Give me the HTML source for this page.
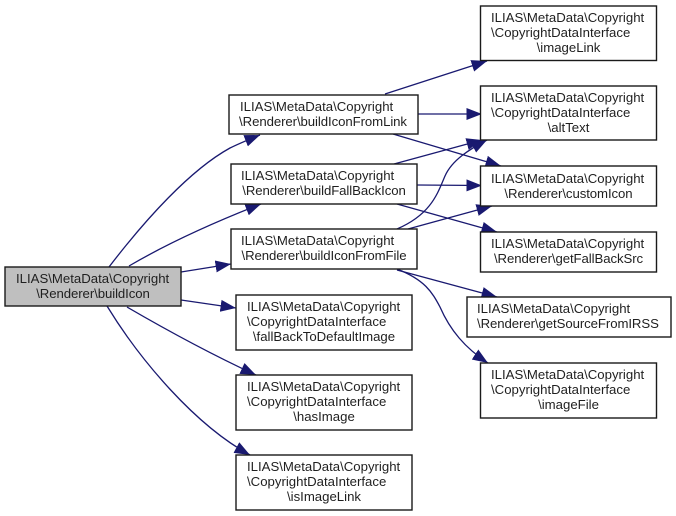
<!DOCTYPE html>
<html>
<head>
<meta charset="utf-8">
<style>
html,body{margin:0;padding:0;background:#fff;width:676px;height:516px;overflow:hidden}
svg{display:block}
text{font-family:"Liberation Sans",Arial,sans-serif;font-size:13.2px;fill:#1f1f1f}
.m{text-anchor:middle}
.r{letter-spacing:-.08px}
rect{fill:#fff;stroke:#1a1a1a;stroke-width:1.4}
path{fill:none;stroke:#191970;stroke-width:1.3}
</style>
</head>
<body>
<svg width="676" height="516" viewBox="0 0 676 516" xmlns="http://www.w3.org/2000/svg">
<defs>
<marker id="a" markerUnits="userSpaceOnUse" markerWidth="17" markerHeight="14" refX="15.5" refY="6.5" orient="auto">
<polygon points="0,0.5 15.5,6.5 0,12.5" fill="#191970"/>
</marker>
</defs>

<path marker-end="url(#a)" d="M109,267 C145,220 190,170 230,148 C240,143 250,139 260,135"/>
<path marker-end="url(#a)" d="M129,266 C170,242 215,222 261,204"/>
<path marker-end="url(#a)" d="M181,272 L231,264"/>
<path marker-end="url(#a)" d="M181,300 L236,308"/>
<path marker-end="url(#a)" d="M127,307 C170,332 215,356 256,375"/>
<path marker-end="url(#a)" d="M107,306 C140,360 195,425 250,455"/>
<path marker-end="url(#a)" d="M385,94 L487,61"/>
<path marker-end="url(#a)" d="M418,114 L482,114"/>
<path marker-end="url(#a)" d="M393,134 L501,166"/>
<path marker-end="url(#a)" d="M394,164 L482,140"/>
<path marker-end="url(#a)" d="M417,185 L482,185.5"/>
<path marker-end="url(#a)" d="M397,204 L497,232"/>
<path marker-end="url(#a)" d="M397,229 C432,214 438,192 445,176 C452,160 470,149 487,140"/>
<path marker-end="url(#a)" d="M408,229 L492,206"/>
<path marker-end="url(#a)" d="M397,270 L497,297"/>
<path marker-end="url(#a)" d="M397,269 C425,280 432,292 440,307 C450,330 465,348 488,363"/>

<rect x="5" y="267" width="176" height="39" style="fill:#bfbfbf"/>
<text x="16" y="283">ILIAS\MetaData\Copyright</text>
<text x="93" y="298" class="m r">\Renderer\buildIcon</text>

<rect x="229" y="95" width="189" height="39"/>
<text x="240" y="111">ILIAS\MetaData\Copyright</text>
<text x="323" y="126" class="m r">\Renderer\buildIconFromLink</text>

<rect x="231" y="164" width="186" height="40"/>
<text x="241" y="180">ILIAS\MetaData\Copyright</text>
<text x="324" y="195" class="m r">\Renderer\buildFallBackIcon</text>

<rect x="231" y="229" width="186" height="40"/>
<text x="241" y="245">ILIAS\MetaData\Copyright</text>
<text x="324" y="260" class="m r">\Renderer\buildIconFromFile</text>

<rect x="236" y="295" width="176" height="55"/>
<text x="247" y="311">ILIAS\MetaData\Copyright</text>
<text x="247" y="326">\CopyrightDataInterface</text>
<text x="324" y="341" class="m">\fallBackToDefaultImage</text>

<rect x="236" y="375" width="176" height="55"/>
<text x="247" y="391">ILIAS\MetaData\Copyright</text>
<text x="247" y="406">\CopyrightDataInterface</text>
<text x="324" y="421" class="m">\hasImage</text>

<rect x="236" y="455" width="176" height="55"/>
<text x="247" y="471">ILIAS\MetaData\Copyright</text>
<text x="247" y="486">\CopyrightDataInterface</text>
<text x="324" y="501" class="m">\isImageLink</text>

<rect x="480.5" y="6" width="176" height="54.5"/>
<text x="491" y="22">ILIAS\MetaData\Copyright</text>
<text x="491" y="37">\CopyrightDataInterface</text>
<text x="568.5" y="52" class="m">\imageLink</text>

<rect x="480.5" y="86" width="176" height="54"/>
<text x="491" y="102">ILIAS\MetaData\Copyright</text>
<text x="491" y="117">\CopyrightDataInterface</text>
<text x="568.5" y="132" class="m">\altText</text>

<rect x="480.5" y="166" width="176" height="40"/>
<text x="491" y="183">ILIAS\MetaData\Copyright</text>
<text x="568.5" y="198" class="m r">\Renderer\customIcon</text>

<rect x="480.5" y="232" width="176" height="40"/>
<text x="491" y="248">ILIAS\MetaData\Copyright</text>
<text x="568.5" y="263" class="m r">\Renderer\getFallBackSrc</text>

<rect x="467" y="297" width="204" height="40"/>
<text x="477" y="313">ILIAS\MetaData\Copyright</text>
<text x="477" y="328" class="r">\Renderer\getSourceFromIRSS</text>

<rect x="480.5" y="363" width="176" height="55"/>
<text x="491" y="379">ILIAS\MetaData\Copyright</text>
<text x="491" y="394">\CopyrightDataInterface</text>
<text x="568.5" y="409" class="m">\imageFile</text>
</svg>
</body>
</html>
